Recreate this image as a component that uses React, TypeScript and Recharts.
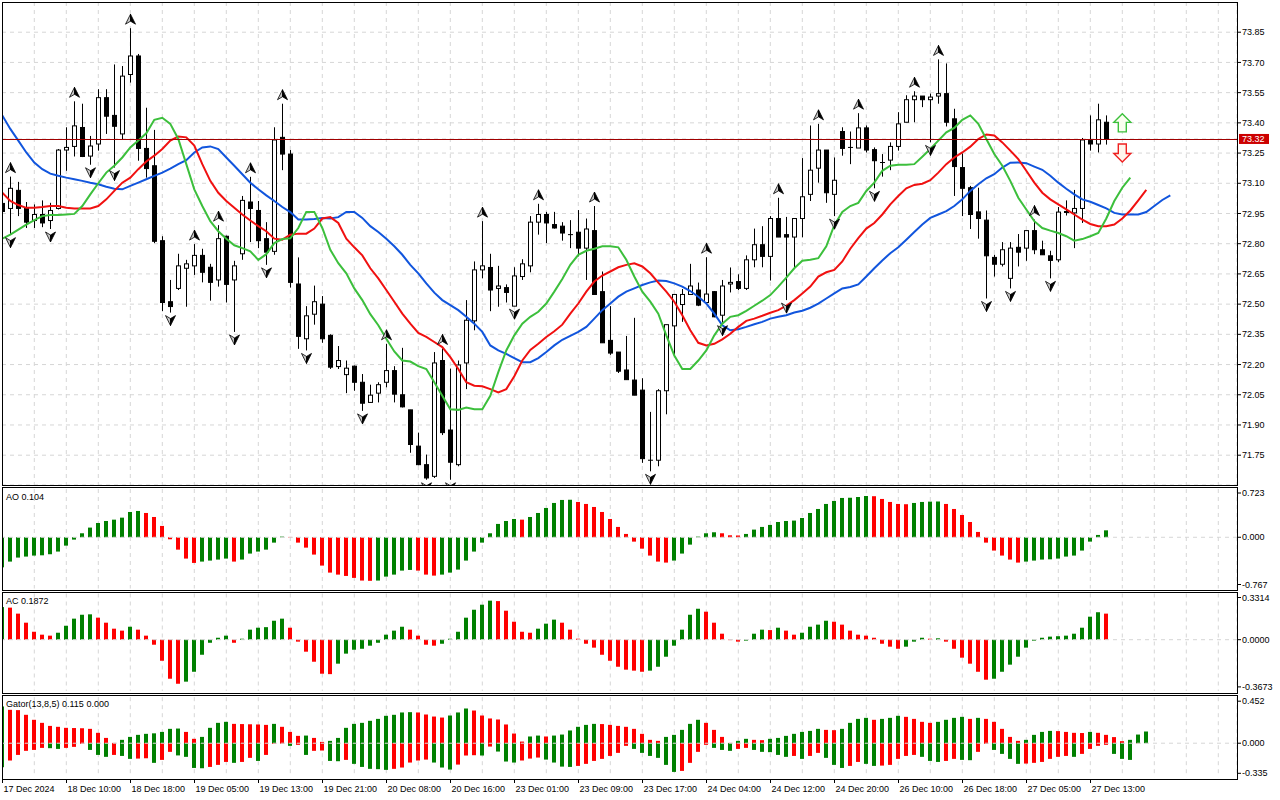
import React from "react";
import {
  Bar,
  CartesianGrid,
  ComposedChart,
  Line,
  ReferenceLine,
  Scatter,
  XAxis,
  YAxis,
} from "recharts";

// H1 candles (index 0 = leftmost, partly clipped bar)
const opens = [
  73.0, 72.975, 73.065, 72.975, 72.915, 72.945, 72.915, 72.975, 73.265, 73.283,
  73.377, 73.235, 73.295, 73.525, 73.437, 73.345, 73.64, 73.732, 73.273, 73.187,
  72.815, 72.512, 72.578, 72.678, 72.69, 72.742, 72.683, 72.62, 72.837, 72.62,
  72.75, 73.007, 72.965, 72.825, 72.762, 73.328, 73.245, 72.6, 72.328, 72.45,
  72.5, 72.345, 72.19, 72.15, 72.192, 72.112, 72.012, 72.058, 72.112, 72.17,
  72.05, 71.975, 71.795, 71.703, 71.645, 72.22, 71.875, 71.703, 72.208, 72.417,
  72.67, 72.682, 72.578, 72.582, 72.49, 72.637, 72.69, 72.907, 72.945, 72.895,
  72.887, 72.845, 72.857, 72.778, 72.865, 72.562, 72.32, 72.262, 72.173, 72.123,
  72.073, 71.725, 71.725, 72.07, 72.392, 72.498, 72.548, 72.57, 72.508, 72.562,
  72.445, 72.6, 72.612, 72.578, 72.72, 72.795, 72.737, 72.925, 72.845, 72.833,
  72.925, 73.045, 73.175, 73.265, 73.045, 73.357, 73.278, 73.275, 73.375, 73.267,
  73.203, 73.215, 73.283, 73.403, 73.515, 73.533, 73.515, 73.533, 73.545, 73.42,
  73.178, 73.078, 72.958, 72.917, 72.732, 72.698, 72.628, 72.782, 72.778, 72.865,
  72.77, 72.74, 72.72, 72.955, 72.953, 72.975, 73.312, 73.295, 73.403,
];
const highs = [
  73.01, 73.133, 73.107, 73.007, 72.995, 73.015, 73.003, 73.27, 73.378, 73.507,
  73.495, 73.335, 73.567, 73.567, 73.69, 73.682, 73.87, 73.742, 73.475, 73.365,
  72.837, 72.62, 72.75, 72.72, 72.798, 72.775, 72.7, 72.892, 72.84, 72.715,
  73.037, 73.132, 73.012, 72.907, 73.378, 73.495, 73.265, 72.732, 72.49, 72.592,
  72.54, 72.35, 72.292, 72.22, 72.195, 72.153, 72.1, 72.112, 72.303, 72.192,
  72.283, 71.975, 71.862, 71.753, 72.262, 72.28, 72.18, 72.22, 72.52, 72.712,
  72.912, 72.75, 72.69, 72.598, 72.683, 72.723, 72.937, 72.998, 72.958, 72.958,
  72.907, 72.917, 72.967, 72.925, 72.987, 72.662, 72.49, 72.262, 72.342, 72.432,
  72.132, 71.965, 72.078, 72.398, 72.548, 72.575, 72.7, 72.607, 72.733, 72.565,
  72.62, 72.682, 72.648, 72.742, 72.875, 72.887, 72.937, 73.028, 72.933, 72.925,
  73.225, 73.387, 73.395, 73.265, 73.228, 73.378, 73.357, 73.448, 73.387, 73.278,
  73.245, 73.303, 73.453, 73.537, 73.557, 73.533, 73.545, 73.715, 73.695, 73.47,
  73.248, 73.087, 73.078, 72.965, 72.745, 72.808, 72.808, 72.848, 72.865, 72.92,
  72.815, 72.765, 72.982, 73.015, 73.067, 73.325, 73.437, 73.495, 73.437,
];
const lows = [
  72.95, 72.845, 72.937, 72.878, 72.878, 72.882, 72.873, 72.97, 73.162, 73.233,
  73.23, 73.192, 73.262, 73.345, 73.178, 73.315, 73.6, 73.212, 73.128, 72.803,
  72.465, 72.458, 72.57, 72.487, 72.645, 72.608, 72.517, 72.587, 72.508, 72.362,
  72.72, 72.808, 72.778, 72.695, 72.745, 73.165, 72.582, 72.278, 72.27, 72.398,
  72.308, 72.178, 72.178, 72.058, 72.07, 71.97, 72.01, 72.012, 72.087, 72.012,
  71.987, 71.762, 71.7, 71.628, 71.637, 71.85, 71.628, 71.695, 72.078, 72.37,
  72.628, 72.465, 72.487, 72.508, 72.49, 72.62, 72.658, 72.845, 72.803, 72.875,
  72.815, 72.778, 72.737, 72.62, 72.548, 72.308, 72.248, 72.158, 72.125, 72.048,
  71.712, 71.67, 71.695, 71.953, 72.245, 72.412, 72.548, 72.49, 72.503, 72.435,
  72.408, 72.558, 72.57, 72.57, 72.683, 72.683, 72.617, 72.833, 72.52, 72.678,
  72.832, 73.012, 73.103, 73.003, 72.937, 73.237, 73.195, 73.275, 73.253, 73.075,
  73.133, 73.165, 73.262, 73.403, 73.403, 73.478, 73.303, 73.495, 73.382, 73.037,
  72.937, 72.873, 72.825, 72.528, 72.637, 72.687, 72.578, 72.687, 72.715, 72.748,
  72.745, 72.628, 72.708, 72.94, 72.778, 72.903, 73.262, 73.253, 73.292,
];
const closes = [
  72.96, 73.075, 72.975, 72.907, 72.945, 72.903, 72.965, 73.265, 73.278, 73.385,
  73.233, 73.285, 73.525, 73.433, 73.383, 73.632, 73.732, 73.273, 73.173, 72.812,
  72.508, 72.488, 72.69, 72.7, 72.742, 72.658, 72.608, 72.825, 72.598, 72.69,
  73.015, 72.975, 72.815, 72.758, 73.315, 73.245, 72.608, 72.34, 72.442, 72.512,
  72.328, 72.187, 72.22, 72.182, 72.112, 72.008, 72.048, 72.1, 72.17, 72.053,
  71.99, 71.803, 71.703, 71.637, 72.208, 71.862, 71.715, 72.198, 72.42, 72.67,
  72.69, 72.57, 72.59, 72.558, 72.64, 72.7, 72.907, 72.945, 72.903, 72.878,
  72.853, 72.845, 72.778, 72.873, 72.548, 72.308, 72.257, 72.167, 72.125, 72.048,
  71.733, 71.725, 72.07, 72.398, 72.548, 72.548, 72.59, 72.495, 72.55, 72.437,
  72.59, 72.608, 72.578, 72.72, 72.795, 72.737, 72.925, 72.833, 72.833, 72.925,
  73.033, 73.165, 73.265, 73.053, 73.115, 73.273, 73.275, 73.375, 73.265, 73.212,
  73.203, 73.283, 73.395, 73.515, 73.533, 73.515, 73.528, 73.545, 73.403, 73.183,
  73.075, 72.945, 72.925, 72.74, 72.698, 72.77, 72.778, 72.758, 72.865, 72.77,
  72.745, 72.717, 72.957, 72.96, 72.975, 73.315, 73.295, 73.415, 73.32,
];

// Alligator (shifted forward 8 / 5 / 3 bars, so they run past the last candle)
const jaw = [
  73.437, 73.37, 73.312, 73.253, 73.203, 73.17, 73.148, 73.137, 73.128, 73.12,
  73.112, 73.103, 73.095, 73.083, 73.073, 73.07, 73.087, 73.103, 73.12, 73.137,
  73.153, 73.173, 73.195, 73.215, 73.253, 73.278, 73.283, 73.27, 73.228, 73.187,
  73.145, 73.103, 73.07, 73.04, 73.012, 72.982, 72.957, 72.92, 72.92, 72.923,
  72.928, 72.925, 72.932, 72.958, 72.958, 72.928, 72.887, 72.858, 72.825, 72.787,
  72.745, 72.695, 72.653, 72.603, 72.557, 72.52, 72.495, 72.47, 72.437, 72.403,
  72.362, 72.295, 72.27, 72.253, 72.232, 72.212, 72.212, 72.232, 72.262, 72.295,
  72.323, 72.342, 72.362, 72.387, 72.428, 72.47, 72.503, 72.537, 72.562, 72.578,
  72.595, 72.608, 72.617, 72.615, 72.603, 72.587, 72.565, 72.537, 72.503, 72.453,
  72.395, 72.37, 72.375, 72.387, 72.4, 72.412, 72.428, 72.437, 72.445, 72.458,
  72.467, 72.482, 72.503, 72.528, 72.553, 72.578, 72.585, 72.598, 72.637, 72.678,
  72.717, 72.753, 72.782, 72.82, 72.858, 72.895, 72.928, 72.945, 72.962, 72.987,
  73.02, 73.062, 73.095, 73.125, 73.145, 73.178, 73.202, 73.203, 73.2, 73.183,
  73.167, 73.137, 73.103, 73.073, 73.045, 73.02, 73.008, 72.992, 72.975, 72.953,
  72.945, 72.945, 72.945, 72.957, 72.987, 73.017, 73.04,
];
const teeth = [
  73.053, 73.012, 72.992, 72.978, 72.978, 72.982, 72.987, 72.987, 72.978, 72.975,
  72.975, 72.975, 72.987, 73.02, 73.062, 73.103, 73.128, 73.17, 73.208, 73.237,
  73.27, 73.312, 73.332, 73.328, 73.287, 73.195, 73.112, 73.053, 73.012, 72.978,
  72.945, 72.915, 72.887, 72.862, 72.825, 72.82, 72.845, 72.85, 72.85, 72.875,
  72.925, 72.932, 72.903, 72.825, 72.782, 72.742, 72.678, 72.628, 72.57, 72.512,
  72.453, 72.403, 72.357, 72.337, 72.312, 72.287, 72.237, 72.178, 72.112, 72.095,
  72.092, 72.078, 72.062, 72.078, 72.142, 72.22, 72.273, 72.303, 72.337, 72.365,
  72.398, 72.453, 72.503, 72.562, 72.612, 72.642, 72.662, 72.683, 72.695, 72.703,
  72.687, 72.653, 72.607, 72.562, 72.512, 72.445, 72.37, 72.308, 72.295, 72.303,
  72.325, 72.353, 72.387, 72.417, 72.428, 72.442, 72.457, 72.47, 72.492, 72.52,
  72.553, 72.587, 72.637, 72.658, 72.67, 72.712, 72.775, 72.828, 72.875, 72.903,
  72.945, 72.995, 73.037, 73.075, 73.092, 73.098, 73.115, 73.153, 73.195, 73.228,
  73.253, 73.282, 73.32, 73.342, 73.337, 73.303, 73.262, 73.22, 73.162, 73.103,
  73.053, 73.02, 72.995, 72.97, 72.945, 72.92, 72.898, 72.887, 72.887, 72.895,
  72.925, 72.965, 73.015, 73.067,
];
const lips = [
  72.825, 72.845, 72.87, 72.895, 72.917, 72.937, 72.942, 72.942, 72.945, 72.948,
  72.987, 73.045, 73.1, 73.153, 73.187, 73.228, 73.278, 73.312, 73.348, 73.415,
  73.425, 73.395, 73.32, 73.195, 73.07, 72.987, 72.912, 72.862, 72.825, 72.792,
  72.778, 72.762, 72.72, 72.748, 72.803, 72.823, 72.827, 72.878, 72.958, 72.958,
  72.878, 72.77, 72.703, 72.653, 72.578, 72.52, 72.45, 72.395, 72.328, 72.265,
  72.22, 72.215, 72.192, 72.178, 72.112, 72.045, 71.978, 71.975, 71.987, 71.978,
  71.978, 72.045, 72.162, 72.27, 72.345, 72.403, 72.437, 72.462, 72.503, 72.562,
  72.625, 72.695, 72.745, 72.765, 72.775, 72.787, 72.787, 72.782, 72.72, 72.637,
  72.562, 72.512, 72.453, 72.345, 72.245, 72.178, 72.178, 72.22, 72.27, 72.345,
  72.403, 72.437, 72.445, 72.467, 72.492, 72.517, 72.545, 72.587, 72.632, 72.678,
  72.715, 72.72, 72.728, 72.787, 72.892, 72.958, 72.987, 73.003, 73.062, 73.103,
  73.162, 73.187, 73.192, 73.192, 73.195, 73.232, 73.27, 73.312, 73.353, 73.375,
  73.415, 73.437, 73.395, 73.32, 73.245, 73.187, 73.112, 73.028, 72.97, 72.912,
  72.878, 72.865, 72.853, 72.837, 72.815, 72.823, 72.837, 72.853, 72.925, 73.012,
  73.078, 73.128,
];

// Bill Williams fractals: bar indices
const fractalUp = [1, 9, 16, 24, 27, 31, 35, 48, 55, 60, 67, 74, 88, 97, 102, 107, 114, 117, 129];
const fractalDown = [1, 6, 11, 14, 21, 29, 33, 38, 45, 53, 56, 64, 81, 90, 98, 104, 109, 116, 123, 126, 131];

// buy / sell arrows right of the last bar
const signalUp = [{ i: 140, p: 73.4 }];
const signalDown = [{ i: 140, p: 73.25 }];

const ao = [
  -0.45, -0.364, -0.304, -0.289, -0.274, -0.27, -0.254, -0.214, -0.125, -0.035,
  0.06, 0.145, 0.214, 0.244, 0.264, 0.294, 0.379, 0.394, 0.364, 0.304,
  0.17, -0.03, -0.185, -0.319, -0.384, -0.364, -0.349, -0.334, -0.319, -0.364,
  -0.334, -0.244, -0.214, -0.185, -0.08, 0.01, 0.005, -0.08, -0.155, -0.259,
  -0.424, -0.529, -0.559, -0.579, -0.608, -0.648, -0.652, -0.648, -0.589, -0.559,
  -0.499, -0.489, -0.499, -0.559, -0.574, -0.559, -0.529, -0.484, -0.349, -0.214,
  -0.08, 0.06, 0.2, 0.244, 0.274, 0.264, 0.304, 0.364, 0.439, 0.514,
  0.559, 0.562, 0.529, 0.499, 0.454, 0.379, 0.274, 0.155, 0.05, -0.065,
  -0.17, -0.274, -0.364, -0.379, -0.349, -0.244, -0.11, 0.01, 0.06, 0.075,
  0.06, 0.03, 0.027, 0.05, 0.115, 0.155, 0.185, 0.229, 0.244, 0.25,
  0.289, 0.364, 0.424, 0.499, 0.544, 0.589, 0.592, 0.603, 0.618, 0.615,
  0.574, 0.529, 0.499, 0.495, 0.514, 0.529, 0.534, 0.536, 0.499, 0.424,
  0.334, 0.229, 0.08, -0.08, -0.199, -0.274, -0.334, -0.379, -0.364, -0.349,
  -0.334, -0.33, -0.319, -0.289, -0.274, -0.199, -0.065, 0.035, 0.104,
];
const ac = [
  0.234, 0.23, 0.187, 0.122, 0.057, 0.036, 0.029, 0.05, 0.1, 0.151,
  0.179, 0.182, 0.158, 0.122, 0.079, 0.065, 0.093, 0.072, 0.029, -0.036,
  -0.151, -0.28, -0.316, -0.301, -0.23, -0.108, -0.022, 0.014, 0.029, -0.022,
  0.007, 0.072, 0.086, 0.09, 0.136, 0.151, 0.086, -0.014, -0.086, -0.158,
  -0.244, -0.247, -0.172, -0.1, -0.072, -0.065, -0.043, -0.022, 0.036, 0.065,
  0.093, 0.072, 0.029, -0.036, -0.043, -0.029, 0.007, 0.057, 0.158, 0.215,
  0.251, 0.28, 0.277, 0.208, 0.129, 0.057, 0.05, 0.079, 0.115, 0.144,
  0.122, 0.072, 0.007, -0.029, -0.057, -0.108, -0.151, -0.194, -0.215, -0.222,
  -0.23, -0.222, -0.194, -0.122, -0.043, 0.072, 0.179, 0.222, 0.201, 0.122,
  0.043, -0.003, -0.014, -0.007, 0.043, 0.072, 0.069, 0.086, 0.065, 0.036,
  0.05, 0.093, 0.108, 0.136, 0.129, 0.108, 0.065, 0.036, 0.029, 0.014,
  -0.029, -0.05, -0.065, -0.05, -0.014, 0.014, 0.007, 0.01, -0.014, -0.065,
  -0.129, -0.172, -0.23, -0.287, -0.28, -0.23, -0.179, -0.122, -0.057, -0.007,
  0.014, 0.022, 0.025, 0.029, 0.043, 0.086, 0.165, 0.197, 0.187,
];
const gatorUp = [
  0.361, 0.328, 0.325, 0.279, 0.23, 0.2, 0.17, 0.161, 0.151, 0.149,
  0.147, 0.141, 0.102, 0.052, 0.003, 0.033, 0.062, 0.082, 0.092, 0.097,
  0.111, 0.141, 0.144, 0.111, 0.043, 0.062, 0.151, 0.2, 0.21, 0.19,
  0.188, 0.186, 0.184, 0.18, 0.19, 0.161, 0.111, 0.072, 0.075, 0.052,
  0.013, 0.023, 0.052, 0.151, 0.19, 0.2, 0.22, 0.239, 0.269, 0.279,
  0.302, 0.305, 0.302, 0.282, 0.262, 0.252, 0.272, 0.302, 0.341, 0.321,
  0.272, 0.243, 0.233, 0.184, 0.095, 0.016, 0.066, 0.075, 0.066, 0.075,
  0.085, 0.125, 0.161, 0.18, 0.19, 0.188, 0.18, 0.17, 0.161, 0.141,
  0.092, 0.033, 0.023, 0.062, 0.082, 0.131, 0.19, 0.23, 0.2, 0.131,
  0.062, 0.003, 0.023, 0.043, 0.033, 0.03, 0.043, 0.052, 0.072, 0.092,
  0.111, 0.121, 0.141, 0.131, 0.128, 0.141, 0.2, 0.239, 0.249, 0.23,
  0.239, 0.249, 0.269, 0.259, 0.239, 0.21, 0.2, 0.21, 0.23, 0.249,
  0.259, 0.239, 0.249, 0.239, 0.21, 0.141, 0.062, 0.023, 0.033, 0.082,
  0.111, 0.121, 0.119, 0.111, 0.102, 0.1, 0.111, 0.102, 0.082, 0.06,
  0.02, 0.033, 0.085, 0.115,
];
const gatorDown = [
  -0.236, -0.17, -0.115, -0.075, -0.066, -0.046, -0.049, -0.056, -0.046, -0.036,
  -0.007, -0.066, -0.115, -0.134, -0.115, -0.125, -0.154, -0.151, -0.148, -0.193,
  -0.164, -0.085, -0.12, -0.134, -0.243, -0.246, -0.233, -0.213, -0.184, -0.193,
  -0.184, -0.144, -0.174, -0.115, -0.007, -0.005, -0.026, -0.016, -0.115, -0.075,
  -0.072, -0.174, -0.177, -0.164, -0.203, -0.233, -0.252, -0.255, -0.262, -0.252,
  -0.239, -0.19, -0.17, -0.161, -0.19, -0.239, -0.259, -0.21, -0.121, -0.118,
  -0.121, -0.033, -0.082, -0.18, -0.19, -0.17, -0.151, -0.141, -0.161, -0.19,
  -0.23, -0.233, -0.223, -0.203, -0.174, -0.154, -0.125, -0.095, -0.026, -0.056,
  -0.095, -0.125, -0.144, -0.213, -0.282, -0.272, -0.193, -0.085, -0.016, -0.046,
  -0.066, -0.075, -0.056, -0.046, -0.066, -0.085, -0.088, -0.115, -0.134, -0.125,
  -0.154, -0.125, -0.095, -0.144, -0.213, -0.243, -0.223, -0.184, -0.203, -0.223,
  -0.22, -0.213, -0.154, -0.125, -0.115, -0.134, -0.174, -0.184, -0.174, -0.154,
  -0.164, -0.167, -0.085, -0.007, -0.066, -0.105, -0.154, -0.203, -0.2, -0.193,
  -0.184, -0.154, -0.134, -0.125, -0.134, -0.105, -0.056, -0.026, -0.016, -0.105,
  -0.154, -0.164, -0.002, 0,
];

const timeLabelIdx = [0, 8, 16, 24, 32, 40, 48, 56, 64, 72, 80, 88, 96, 104, 112, 120, 128, 136];
const timeLabels = [
  "17 Dec 2024", "18 Dec 10:00", "18 Dec 18:00", "19 Dec 05:00", "19 Dec 13:00",
  "19 Dec 21:00", "20 Dec 08:00", "20 Dec 16:00", "23 Dec 01:00", "23 Dec 09:00",
  "23 Dec 17:00", "24 Dec 04:00", "24 Dec 12:00", "24 Dec 20:00", "26 Dec 10:00",
  "26 Dec 18:00", "27 Dec 05:00", "27 Dec 13:00",
];
const priceTicks = [71.75, 71.9, 72.05, 72.2, 72.35, 72.5, 72.65, 72.8, 72.95, 73.1, 73.25, 73.4, 73.55, 73.7, 73.85];
const LAST_PRICE = 73.32;

const FONT = "'Liberation Sans', Arial, Helvetica, sans-serif";
const GREEN = "#008000";
const RED = "#ff0000";
const GRID = "#d6d6d6";

// 8 px per bar, first bar centred at x = 2.3
const X_DOMAIN: [number, number] = [-0.0375, 154.3375];
const gridIdx = Array.from({ length: 38 }, (_, k) => 4 * (k + 1));

const rows = jaw.map((_, i) => ({
  i,
  range: i < closes.length ? [lows[i], highs[i]] : null,
  o: opens[i],
  h: highs[i],
  l: lows[i],
  c: closes[i],
  jaw: jaw[i],
  teeth: teeth[i] ?? null,
  lips: lips[i] ?? null,
  ao: ao[i] ?? null,
  ac: ac[i] ?? null,
  gUp: gatorUp[i] ?? null,
  gDn: gatorDown[i] ?? null,
}));

const upFr = fractalUp.map((i) => ({ i, p: highs[i] }));
const dnFr = fractalDown.map((i) => ({ i, p: lows[i] }));

const risingColor = (arr: number[], i: number) => (i === 0 || arr[i] > arr[i - 1] ? GREEN : RED);
const widening = (arr: number[], i: number) =>
  i === 0 || Math.abs(arr[i]) > Math.abs(arr[i - 1]) ? GREEN : RED;

function Candle(p: any) {
  const d = p.payload;
  if (!d || d.o == null || p.y == null) return <g />;
  const cx = Math.round(p.x + p.width / 2) + 0.5;
  const top = Math.min(p.y, p.y + p.height);
  const bottom = Math.max(p.y, p.y + p.height);
  const span = d.h - d.l;
  const k = span > 0 ? (bottom - top) / span : 0;
  const yo = top + (d.h - d.o) * k;
  const yc = top + (d.h - d.c) * k;
  const bt = Math.min(yo, yc);
  const bb = Math.max(yo, yc);
  return (
    <g>
      <line x1={cx} x2={cx} y1={top} y2={bottom} stroke="#000" strokeWidth={1} />
      {bb - bt < 1 ? (
        <line x1={cx - 2.5} x2={cx + 2.5} y1={bt} y2={bt} stroke="#000" strokeWidth={1} />
      ) : (
        <rect x={cx - 2} y={bt} width={4} height={bb - bt} fill={d.c >= d.o ? "#fff" : "#000"} stroke="#000" strokeWidth={1} />
      )}
    </g>
  );
}

function FractalUp(p: any) {
  const cx = Math.round(p.cx) + 0.5;
  const ay = p.cy - 9;
  return (
    <g>
      <path d={`M${cx},${ay - 5} L${cx - 5},${ay + 5} L${cx},${ay + 2} Z`} fill="#c8c8c8" stroke="#000" strokeWidth={0.8} />
      <path d={`M${cx},${ay - 5} L${cx + 5},${ay + 5} L${cx},${ay + 2} Z`} fill="#000" stroke="#000" strokeWidth={0.8} />
    </g>
  );
}

function FractalDown(p: any) {
  const cx = Math.round(p.cx) + 0.5;
  const ay = p.cy + 8;
  return (
    <g>
      <path d={`M${cx},${ay + 5} L${cx - 5},${ay - 5} L${cx},${ay - 2} Z`} fill="#c8c8c8" stroke="#000" strokeWidth={0.8} />
      <path d={`M${cx},${ay + 5} L${cx + 5},${ay - 5} L${cx},${ay - 2} Z`} fill="#000" stroke="#000" strokeWidth={0.8} />
    </g>
  );
}

function BuyArrow(p: any) {
  const cx = p.cx;
  const cy = p.cy;
  const pts = [[0, -9], [8.5, -0.5], [4, -0.5], [4, 9], [-4, 9], [-4, -0.5], [-8.5, -0.5]]
    .map(([dx, dy]) => `${cx + dx},${cy + dy}`)
    .join(" ");
  return <polygon points={pts} fill="#fbfff0" stroke="#3cc03c" strokeWidth={1.4} />;
}

function SellArrow(p: any) {
  const cx = p.cx;
  const cy = p.cy;
  const pts = [[0, 9], [8.5, 0.5], [4, 0.5], [4, -9], [-4, -9], [-4, 0.5], [-8.5, 0.5]]
    .map(([dx, dy]) => `${cx + dx},${cy + dy}`)
    .join(" ");
  return <polygon points={pts} fill="#fff6ec" stroke="#f02020" strokeWidth={1.4} />;
}

// crisp 1px price line
function PriceLine(p: any) {
  const y = Math.round(p.y1) + 0.5;
  return <line x1={p.x1} x2={p.x2} y1={y} y2={y} stroke="#a00000" strokeWidth={1} />;
}

function PriceTick(p: any) {
  const v = p.payload.value;
  if (v === LAST_PRICE) {
    return (
      <g>
        <rect x={p.x - 3} y={p.y - 5} width={30} height={10} fill="#cc0000" />
        <text x={p.x} y={p.y} dy="0.35em" fontSize={9} fontFamily={FONT} fill="#fff">
          {v.toFixed(2)}
        </text>
      </g>
    );
  }
  return (
    <g>
      <line x1={p.x - 5} x2={p.x - 1} y1={p.y} y2={p.y} stroke="#000" />
      <text x={p.x} y={p.y} dy="0.35em" fontSize={9} fontFamily={FONT} fill="#000">
        {v.toFixed(2)}
      </text>
    </g>
  );
}

// min / max labels of the sub windows are pulled inside the window
const subTick = (min: number, max: number, digits: number) => (p: any) => {
  const v = p.payload.value;
  const y = p.y + (v === max ? 4 : v === min ? -4 : 0);
  return (
    <g>
      <line x1={p.x - 5} x2={p.x - 1} y1={y} y2={y} stroke="#000" />
      <text x={p.x} y={y} dy="0.35em" fontSize={9} fontFamily={FONT} fill="#000">
        {v.toFixed(digits)}
      </text>
    </g>
  );
};

function TimeTick(p: any) {
  const k = timeLabelIdx.indexOf(p.payload.value);
  if (k < 0) return <g />;
  const x = Math.round(p.x) + 0.5;
  return (
    <g>
      <line x1={x} x2={x} y1={p.y + 1.7} y2={p.y + 5.7} stroke="#000" />
      <text x={x + 1} y={p.y + 14.2} fontSize={9} fontFamily={FONT} fill="#000">
        {timeLabels[k]}
      </text>
    </g>
  );
}

const subBar = (color: (i: number) => string) => (p: any) => {
  if (p.payload == null || p.height == null || p.y == null) return <g />;
  const top = Math.min(p.y, p.y + p.height);
  return <rect x={Math.round(p.x)} y={top} width={4} height={Math.abs(p.height)} fill={color(p.payload.i)} />;
};

function Panel({ top, height, children }: { top: number; height: number; children: React.ReactNode }) {
  return (
    <div style={{ position: "absolute", left: 2, top, width: 1278, height, overflow: "hidden" }}>
      <div style={{ position: "absolute", left: -2, top: 0 }}>{children}</div>
    </div>
  );
}

const border = (top: number, height: number): React.CSSProperties => ({
  position: "absolute",
  left: 2,
  top,
  width: 1236,
  height,
  border: "1px solid #000",
  boxSizing: "border-box",
  pointerEvents: "none",
});

const labelStyle = (top: number): React.CSSProperties => ({
  position: "absolute",
  left: 6,
  top,
  fontSize: 9,
  lineHeight: "10px",
  fontFamily: FONT,
  color: "#000",
  whiteSpace: "nowrap",
});

export default function App() {
  return (
    <div style={{ position: "relative", width: 1280, height: 800, background: "#fff", overflow: "hidden" }}>
      <style>{`body{margin:0}`}</style>

      <Panel top={2} height={483}>
        <ComposedChart width={1280} height={483} data={rows} margin={{ top: 0, right: 0, bottom: 0, left: 2 }}>
          <CartesianGrid stroke={GRID} strokeDasharray="4 4" />
          <XAxis type="number" dataKey="i" domain={X_DOMAIN} ticks={gridIdx} hide allowDataOverflow />
          <YAxis
            orientation="right"
            width={43}
            domain={[71.602, 74.0]}
            ticks={[...priceTicks, LAST_PRICE]}
            interval={0}
            allowDataOverflow
            axisLine={false}
            tickLine={false}
            tickSize={4}
            tickMargin={1}
            tick={PriceTick}
          />
          <Bar dataKey="range" barSize={5} shape={Candle} isAnimationActive={false} />
          <Line dataKey="jaw" type="linear" stroke="#1155dd" strokeWidth={2} dot={false} isAnimationActive={false} />
          <Line dataKey="teeth" type="linear" stroke="#f01010" strokeWidth={2} dot={false} isAnimationActive={false} />
          <Line dataKey="lips" type="linear" stroke="#3cbf3c" strokeWidth={2} dot={false} isAnimationActive={false} />
          <ReferenceLine y={LAST_PRICE} shape={PriceLine} />
          <Scatter data={upFr} dataKey="p" shape={FractalUp} isAnimationActive={false} />
          <Scatter data={dnFr} dataKey="p" shape={FractalDown} isAnimationActive={false} />
          <Scatter data={signalUp} dataKey="p" shape={BuyArrow} isAnimationActive={false} />
          <Scatter data={signalDown} dataKey="p" shape={SellArrow} isAnimationActive={false} />
        </ComposedChart>
      </Panel>

      <Panel top={487} height={103}>
        <ComposedChart width={1280} height={103} data={rows} margin={{ top: 2, right: 0, bottom: 1.5, left: 2 }}>
          <CartesianGrid stroke={GRID} strokeDasharray="4 4" horizontal={false} />
          <XAxis type="number" dataKey="i" domain={X_DOMAIN} ticks={gridIdx} hide allowDataOverflow />
          <YAxis
            orientation="right"
            width={43}
            domain={[-0.767, 0.723]}
            ticks={[-0.767, 0, 0.723]}
            interval={0}
            allowDataOverflow
            axisLine={false}
            tickLine={false}
            tickSize={4}
            tickMargin={1}
            tick={subTick(-0.767, 0.723, 3)}
          />
          <Bar dataKey="ao" barSize={4} shape={subBar((i) => risingColor(ao, i))} isAnimationActive={false} />
          <ReferenceLine y={0} stroke={GRID} strokeDasharray="4 4" />
        </ComposedChart>
      </Panel>

      <Panel top={592} height={101}>
        <ComposedChart width={1280} height={101} data={rows} margin={{ top: 1.5, right: 0, bottom: 2.1, left: 2 }}>
          <CartesianGrid stroke={GRID} strokeDasharray="4 4" horizontal={false} />
          <XAxis type="number" dataKey="i" domain={X_DOMAIN} ticks={gridIdx} hide allowDataOverflow />
          <YAxis
            orientation="right"
            width={43}
            domain={[-0.3673, 0.3314]}
            ticks={[-0.3673, 0, 0.3314]}
            interval={0}
            allowDataOverflow
            axisLine={false}
            tickLine={false}
            tickSize={4}
            tickMargin={1}
            tick={subTick(-0.3673, 0.3314, 4)}
          />
          <Bar dataKey="ac" barSize={4} shape={subBar((i) => risingColor(ac, i))} isAnimationActive={false} />
          <ReferenceLine y={0} stroke={GRID} strokeDasharray="4 4" />
        </ComposedChart>
      </Panel>

      <Panel top={695} height={105}>
        <ComposedChart
          width={1280}
          height={105}
          data={rows}
          stackOffset="sign"
          margin={{ top: 2.2, right: 0, bottom: 0, left: 2 }}
        >
          <CartesianGrid stroke={GRID} strokeDasharray="4 4" horizontal={false} />
          <XAxis
            type="number"
            dataKey="i"
            domain={X_DOMAIN}
            ticks={[0, ...gridIdx]}
            interval={0}
            height={22.7}
            allowDataOverflow
            axisLine={false}
            tickLine={false}
            tickSize={0}
            tickMargin={0}
            tick={TimeTick}
          />
          <YAxis
            orientation="right"
            width={43}
            domain={[-0.335, 0.452]}
            ticks={[-0.335, 0, 0.452]}
            interval={0}
            allowDataOverflow
            axisLine={false}
            tickLine={false}
            tickSize={4}
            tickMargin={1}
            tick={subTick(-0.335, 0.452, 3)}
          />
          <Bar dataKey="gUp" stackId="g" barSize={4} shape={subBar((i) => risingColor(gatorUp, i))} isAnimationActive={false} />
          <Bar dataKey="gDn" stackId="g" barSize={4} shape={subBar((i) => widening(gatorDown, i))} isAnimationActive={false} />
          <ReferenceLine y={0} stroke={GRID} strokeDasharray="4 4" />
        </ComposedChart>
      </Panel>

      <div style={border(2, 484)} />
      <div style={border(487, 104)} />
      <div style={border(592, 102)} />
      <div style={border(695, 85)} />

      <div style={labelStyle(492)}>AO 0.104</div>
      <div style={labelStyle(596)}>AC 0.1872</div>
      <div style={labelStyle(699)}>Gator(13,8,5) 0.115 0.000</div>
    </div>
  );
}
